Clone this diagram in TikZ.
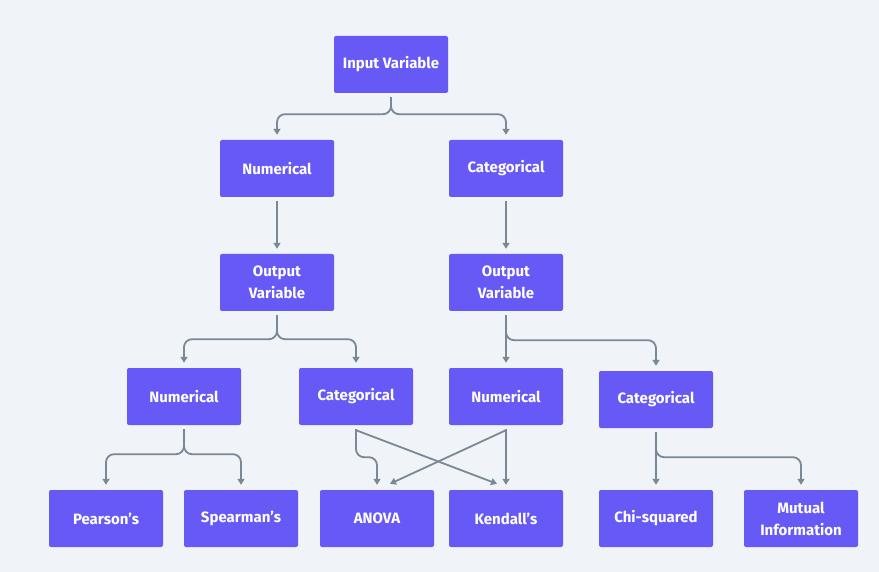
\documentclass[tikz,border=0pt]{standalone}
\usepackage{fontspec}
\setmainfont{Fira Sans}
\usetikzlibrary{arrows.meta,calc}
\definecolor{bg}{HTML}{F0F3F7}
\definecolor{boxc}{HTML}{6659F5}
\definecolor{linec}{HTML}{7A8997}
\tikzset{
  box/.style={fill=boxc, rounded corners=2pt, minimum width=114pt, minimum height=57pt,
    inner sep=0pt, text=white, align=center, font=\fontsize{15}{22}\selectfont\bfseries},
  conn/.style={draw=linec, line width=1.8pt, rounded corners=8pt,
    -{Triangle[width=7pt,length=6pt]}},
}
\begin{document}
\begin{tikzpicture}[x=1pt,y=-1pt]
\fill[bg] (0,0) rectangle (879,572);
\useasboundingbox (0,0) rectangle (879,572);

\node[box] (in) at (391,64.5) {Input Variable};
\node[box] (num1) at (277,168.5) {Numerical};
\node[box] (cat1) at (506,168.5) {Categorical};
\node[box] (outL) at (277,282.5) {Output\\Variable};
\node[box] (outR) at (506,282.5) {Output\\Variable};
\node[box] (numL) at (184,396.5) {Numerical};
\node[box] (catL) at (356,396.5) {Categorical};
\node[box] (numR) at (506,396.5) {Numerical};
\node[box] (catR) at (656,399.5) {Categorical};
\node[box] (pear) at (106,518.5) {Pearson's};
\node[box] (spear) at (241,518.5) {Spearman's};
\node[box] (anova) at (377,518.5) {ANOVA};
\node[box] (kend) at (506,518.5) {Kendall's};
\node[box] (chi) at (656,518.5) {Chi-squared};
\node[box] (mut) at (801,518.5) {Mutual\\Information};

% Input -> Numerical / Categorical
\draw[conn] ([yshift=-4pt]in.south) -- ([yshift=-21pt]in.south) -| ([yshift=5pt]num1.north);
\draw[conn] ([yshift=-4pt]in.south) -- ([yshift=-21pt]in.south) -| ([yshift=5pt]cat1.north);
% to Output Variable
\draw[conn] ([yshift=-4pt]num1.south) -- ([yshift=5pt]outL.north);
\draw[conn] ([yshift=-4pt]cat1.south) -- ([yshift=5pt]outR.north);
% Output L
\draw[conn] ([yshift=-4pt]outL.south) -- ([yshift=-28pt]outL.south) -| ([yshift=5pt]numL.north);
\draw[conn] ([yshift=-4pt]outL.south) -- ([yshift=-28pt]outL.south) -| ([yshift=5pt]catL.north);
% Output R
\draw[conn] ([yshift=-4pt]outR.south) -- ([yshift=5pt]numR.north);
\draw[conn] ([yshift=-4pt]outR.south) -- ([yshift=-29pt]outR.south) -| ([yshift=5pt]catR.north);
% Numerical L
\draw[conn] ([yshift=-4pt]numL.south) -- ([yshift=-29pt]numL.south) -| ([yshift=5pt]pear.north);
\draw[conn] ([yshift=-4pt]numL.south) -- ([yshift=-29pt]numL.south) -| ([yshift=5pt]spear.north);
% Categorical L
\draw[conn] ([yshift=-4pt]catL.south) -- ([yshift=-32pt]catL.south) -| ([yshift=5pt]anova.north);
\draw[conn] ([yshift=-5pt]catL.south) -- ([xshift=-9pt,yshift=6pt]kend.north);
% Numerical R
\draw[conn] ([yshift=-4pt]numR.south) -- ([yshift=5pt]kend.north);
\draw[conn] ([yshift=-5pt]numR.south) -- ([xshift=13pt,yshift=6pt]anova.north);
% Categorical R
\draw[conn] ([yshift=-4pt]catR.south) -- ([yshift=5pt]chi.north);
\draw[conn] ([yshift=-4pt]catR.south) -- ([yshift=-29pt]catR.south) -| ([yshift=5pt]mut.north);
\end{tikzpicture}
\end{document}
